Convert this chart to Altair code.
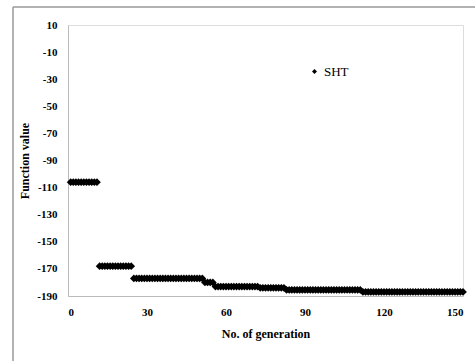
import altair as alt
import pandas as pd

# step levels of the best function value
step_start = [1, 12, 25, 52, 56, 73, 83, 112]
step_end = [11, 24, 51, 55, 72, 82, 111, 150]
step_value = [-106, -168, -177, -180, -183, -184, -185.5, -187]

gens, vals = [], []
for s, e, v in zip(step_start, step_end, step_value):
    for g in range(s, e + 1):
        gens.append(g)
        vals.append(v)

df = pd.DataFrame({"gen": gens, "value": vals, "series": ["SHT"] * len(gens)})

x_ticks = [0, 30, 60, 90, 120, 150]
y_ticks = [10, -10, -30, -50, -70, -90, -110, -130, -150, -170, -190]

FONT = "Liberation Serif"

points = alt.Chart(df).mark_point(filled=True, shape="diamond", size=60, opacity=1).encode(
    x=alt.X("gen:Q", scale=alt.Scale(domain=[0, 150], nice=False),
            axis=alt.Axis(values=x_ticks, title="No. of generation", grid=False, ticks=False,
                          domainColor="#bbbbbb", labelFont=FONT, labelFontWeight="bold",
                          labelFontSize=11, labelPadding=10, titleFont=FONT,
                          titleFontWeight="bold", titleFontSize=12, titlePadding=11,
                          labelColor="black", titleColor="black")),
    y=alt.Y("value:Q", scale=alt.Scale(domain=[-190, 10], nice=False),
            axis=alt.Axis(values=y_ticks, title="Function value", grid=False, ticks=False,
                          domainColor="#bbbbbb", labelFont=FONT, labelFontWeight="bold",
                          labelFontSize=11, labelPadding=11, titleFont=FONT,
                          titleFontWeight="bold", titleFontSize=12, titlePadding=5,
                          labelColor="black", titleColor="black",
                          labelExpr="replace(datum.label, '\u2212', '-')")),
    color=alt.Color("series:N", scale=alt.Scale(range=["black"]),
                    legend=alt.Legend(title=None, orient="none", legendX=240, legendY=40,
                                      symbolType="diamond", symbolSize=25, labelFont=FONT,
                                      labelFontSize=13, labelColor="black", padding=0,
                                      labelOffset=3)),
)

frame_left = alt.Chart(pd.DataFrame({"a": [0]})).mark_rule(color="#999999", strokeWidth=1.5).encode(
    x=alt.value(-55), y=alt.value(-18), y2=alt.value(340))
frame_top = alt.Chart(pd.DataFrame({"a": [0]})).mark_rule(color="#999999", strokeWidth=1.5).encode(
    x=alt.value(-55), x2=alt.value(420), y=alt.value(-18))

chart = alt.layer(frame_left, frame_top, points).properties(
    width=395, height=271,
    padding={"left": 68, "top": 25, "right": 12, "bottom": 65},
    autosize=alt.AutoSizeParams(type="none"),
).configure_view(stroke=None).configure(background="white")

chart.save("out.html", embed_options={"renderer": "svg", "actions": False})
